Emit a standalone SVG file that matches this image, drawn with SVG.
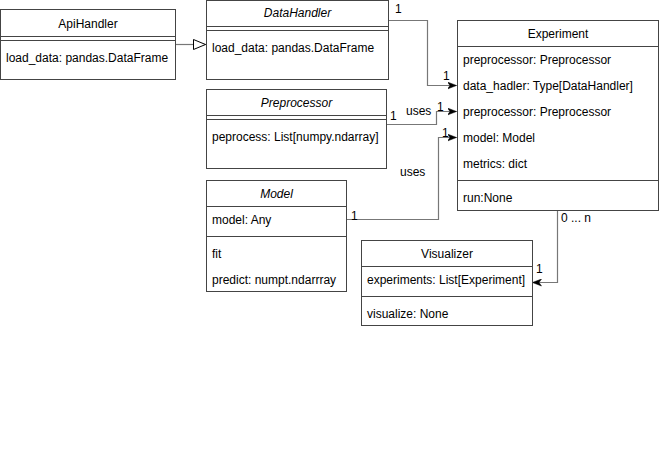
<svg xmlns="http://www.w3.org/2000/svg" width="660" height="452" viewBox="0 0 660 452">
<style>
.box{fill:#fff;stroke:#444;stroke-width:1}
.sep{stroke:#444;stroke-width:1;fill:none}
text{font-family:"Liberation Sans",Arial,sans-serif;font-size:12px;fill:#000}
.t{text-anchor:middle}
.i{font-style:italic}
.c{fill:none;stroke:#777;stroke-width:1.2}
</style>
<defs>
<marker id="arr" viewBox="0 0 9 8" refX="9" refY="4" markerWidth="9" markerHeight="8" markerUnits="userSpaceOnUse" orient="auto">
<path d="M0,0.5 L9,4 L0,7.5 L2.5,4 Z" fill="#000" stroke="#000" stroke-width="0.5"/>
</marker>
<marker id="tri" viewBox="0 0 14 12" refX="14" refY="6" markerWidth="14" markerHeight="12" markerUnits="userSpaceOnUse" orient="auto">
<path d="M1,1 L13,6 L1,11 Z" fill="#fff" stroke="#000" stroke-width="1"/>
</marker>
</defs>
<rect width="660" height="452" fill="#fff"/>
<g id="connectors">
<path class="c" d="M175.5,44.5 H206.5" marker-end="url(#tri)"/>
<path class="c" d="M388.5,20.5 H427.5 V85.5 H456.5" marker-end="url(#arr)"/>
<path class="c" d="M386.5,124.5 H436.5 V111.5 H456.5" marker-end="url(#arr)"/>
<path class="c" d="M346.5,219.5 H438.5 V137.5 H456.5" marker-end="url(#arr)"/>
<path class="c" d="M557.5,210.5 V282.5 H532.5" marker-end="url(#arr)"/>
<text x="395" y="13">1</text>
<text x="443" y="80">1</text>
<text x="390" y="120">1</text>
<text x="437" y="111">1</text>
<text x="406" y="115">uses</text>
<text x="442" y="137">1</text>
<text x="400" y="176">uses</text>
<text x="351" y="220">1</text>
<text x="561" y="222">0 ... n</text>
<text x="536" y="273">1</text>
</g>
<g id="ApiHandler">
<rect class="box" x="0.5" y="9.5" width="175" height="70"/>
<path class="sep" d="M0.5,36.5 H175.5 M0.5,40.5 H175.5"/>
<text class="t" x="88" y="28">ApiHandler</text>
<text x="6" y="62">load_data: pandas.DataFrame</text>
</g>
<g id="DataHandler">
<rect class="box" x="206.5" y="0.5" width="182" height="79"/>
<path class="sep" d="M206.5,26.5 H388.5 M206.5,30.5 H388.5"/>
<text class="t i" x="297.5" y="17">DataHandler</text>
<text x="212" y="52">load_data: pandas.DataFrame</text>
</g>
<g id="Preprocessor">
<rect class="box" x="206.5" y="89.5" width="180" height="79"/>
<path class="sep" d="M206.5,115.5 H386.5 M206.5,119.5 H386.5"/>
<text class="t i" x="296.5" y="107">Preprocessor</text>
<text x="212" y="141">peprocess: List[numpy.ndarray]</text>
</g>
<g id="Experiment">
<rect class="box" x="457.5" y="20.5" width="201" height="190"/>
<path class="sep" d="M457.5,46.5 H658.5 M457.5,180.5 H658.5"/>
<text class="t" x="558" y="38">Experiment</text>
<text x="463" y="64">preprocessor: Preprocessor</text>
<text x="463" y="90">data_hadler: Type[DataHandler]</text>
<text x="463" y="116">preprocessor: Preprocessor</text>
<text x="463" y="142">model: Model</text>
<text x="463" y="168">metrics: dict</text>
<text x="463" y="202">run:None</text>
</g>
<g id="Model">
<rect class="box" x="206.5" y="180.5" width="140" height="111"/>
<path class="sep" d="M206.5,206.5 H346.5 M206.5,236.5 H346.5"/>
<text class="t i" x="276.5" y="198">Model</text>
<text x="212" y="224">model: Any</text>
<text x="212" y="258">fit</text>
<text x="212" y="284">predict: numpt.ndarrray</text>
</g>
<g id="Visualizer">
<rect class="box" x="361.5" y="240.5" width="171" height="85"/>
<path class="sep" d="M361.5,266.5 H532.5 M361.5,296.5 H532.5"/>
<text class="t" x="447" y="258">Visualizer</text>
<text x="367" y="284">experiments: List[Experiment]</text>
<text x="367" y="318">visualize: None</text>
</g>
</svg>
